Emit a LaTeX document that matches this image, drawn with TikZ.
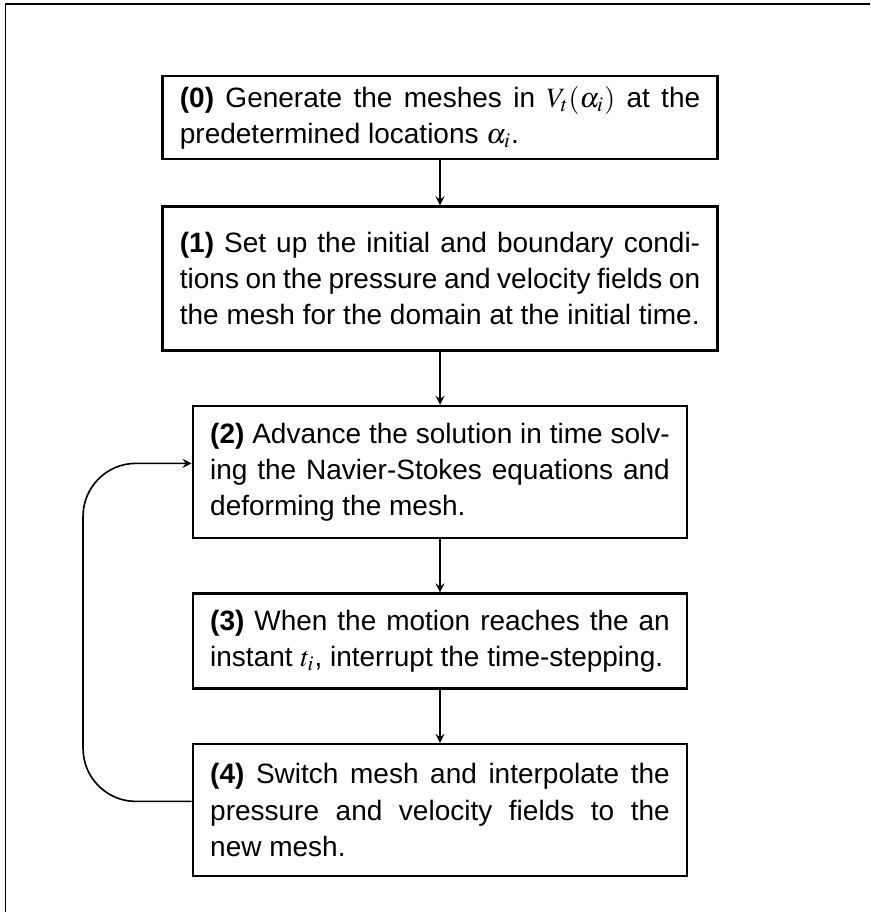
\documentclass[tikz,border=0pt]{standalone}
\usepackage{amsmath, mathptmx}
\usepackage[no-math]{fontspec}
\setmainfont{Liberation Sans}
\usetikzlibrary{arrows, positioning}

\begin{document}
\begin{tikzpicture}[> = stealth, % arrow head style
                node distance = 22.8pt, % gap between the boxes
                line width = 0.7pt % line style
            ]

            \tikzstyle{stepbox}=[draw = black, rectangle, line width = 1pt,
            inner xsep = 7.5pt, inner ysep = 4pt, align = justify,
            font = \fontsize{12}{15.5}\selectfont]
            \tikzstyle{wide}=[text width = 223pt]
            \tikzstyle{narrow}=[text width = 197pt]
            \tikzstyle{twolines}=[minimum height = 40.7pt]
            \tikzstyle{threelines}=[minimum height = 56.6pt]

            \useasboundingbox (0,0) rectangle (372.9pt,-390.9pt);
            % frame, only its top and left sides show
            \draw[line width = 0.65pt] (2.4pt,-390.9pt) -- (2.4pt,-1.8pt) --
            (372.9pt,-1.8pt);

            \node[stepbox, wide, minimum height = 35.6pt] (0) at
            (188.6pt,-50.4pt) {\textbf{(0)} Generate the meshes in
                $V_t(\alpha_i)$ at the\linebreak predetermined locations
                $\alpha_i$.};
            \node[stepbox, wide, minimum height = 61.7pt] (1) [below = 19.3pt
            of 0] {\textbf{(1)} Set up the initial and boundary
                condi-\linebreak tions on the pressure and velocity fields
                on\linebreak the mesh for the domain at the initial time.};
            \node[stepbox, narrow, threelines] (2) [below = of 1]
            {\textbf{(2)} Advance the solution in time solv-\linebreak ing
                the Navier-Stokes equations and\linebreak deforming the
                mesh.};
            \node[stepbox, narrow, twolines] (3) [below = of 2]
            {\textbf{(3)} When the motion reaches the an\linebreak instant
                $t_i$, interrupt the time-stepping.};
            \node[stepbox, narrow, threelines] (4) [below = of 3]
            {\textbf{(4)} Switch mesh and interpolate the\linebreak pressure
                and velocity fields to the\linebreak new mesh.};

            \path[->] (0) edge (1); \path[->] (1) edge (2); \path[->] (2) edge
            (3); \path[->] (3) edge (4);
            % back to step (2)
            \draw[->, rounded corners = 22.7pt] ([yshift = 3.7pt]4.west) --
            ++(-46.5pt,0) |- ([yshift = 3.7pt]2.west);
        \end{tikzpicture}
\end{document}
